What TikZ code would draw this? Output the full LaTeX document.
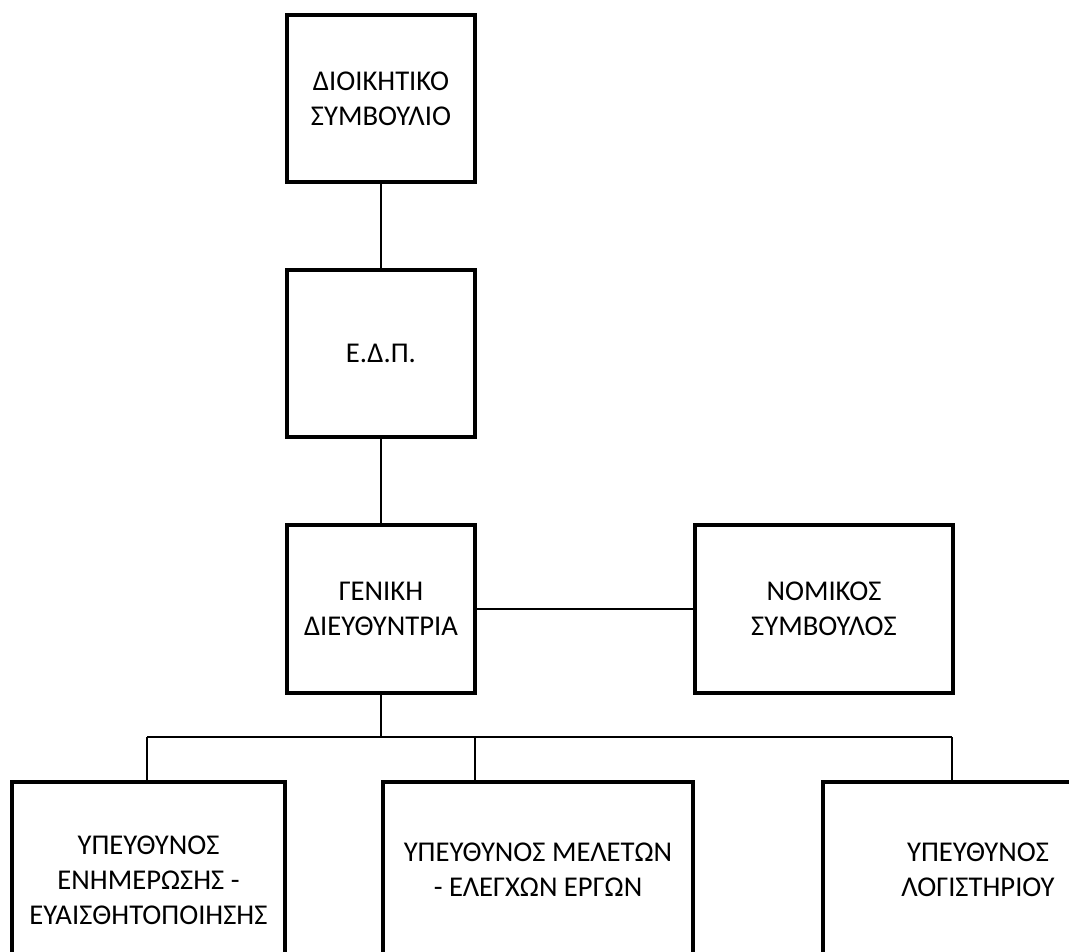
\documentclass[tikz,border=0pt]{standalone}
\usepackage{fontspec}
\setmainfont{Carlito}
\begin{document}
\begin{tikzpicture}[x=0.75pt,y=-0.75pt,
  box/.style={draw,line width=3pt,rectangle,inner sep=0pt,align=center,
    font=\fontsize{21.5}{26.25}\selectfont},
  thin/.style={line width=1pt},
  mid/.style={line width=1.5pt}]
\useasboundingbox (0,0) rectangle (1069,951);
\clip (0,0) rectangle (1069,951);
\node[box,minimum width=141pt,minimum height=125.25pt] (ds) at (381,98.5) {ΔΙΟΙΚΗΤΙΚΟ\\ΣΥΜΒΟΥΛΙΟ};
\node[box,minimum width=141pt,minimum height=125.25pt] (edp) at (381,353.5) {Ε.Δ.Π.};
\node[box,minimum width=141pt,minimum height=126pt] (gd) at (381,609) {ΓΕΝΙΚΗ\\ΔΙΕΥΘΥΝΤΡΙΑ};
\node[box,minimum width=193.5pt,minimum height=126pt] (ns) at (824,609) {ΝΟΜΙΚΟΣ\\ΣΥΜΒΟΥΛΟΣ};
\node[box,minimum width=204.75pt,minimum height=147pt] (ya) at (148.5,880) {ΥΠΕΥΘΥΝΟΣ\\ΕΝΗΜΕΡΩΣΗΣ -\\ΕΥΑΙΣΘΗΤΟΠΟΙΗΣΗΣ};
\node[box,minimum width=232.5pt,minimum height=132pt] (yb) at (538,870) {ΥΠΕΥΘΥΝΟΣ ΜΕΛΕΤΩΝ\\- ΕΛΕΓΧΩΝ ΕΡΓΩΝ};
\node[box,minimum width=232.5pt,minimum height=132pt] (yc) at (978,870) {ΥΠΕΥΘΥΝΟΣ\\ΛΟΓΙΣΤΗΡΙΟΥ};
\coordinate (barL) at (147,737);
\coordinate (barM) at (475,737);
\coordinate (barR) at (952,737);
\coordinate (barC) at (381,737);
\draw[thin] (ds.south) -- (edp.north);
\draw[mid] (edp.south) -- (gd.north);
\draw[mid] (gd.east) -- (ns.west);
\draw[mid] (gd.south) -- (barC);
\draw[mid] (barL) -- (barR);
\draw[mid] (barL) -- (barL |- ya.north);
\draw[mid] (barM) -- (barM |- yb.north);
\draw[mid] (barR) -- (barR |- yc.north);
\end{tikzpicture}
\end{document}
